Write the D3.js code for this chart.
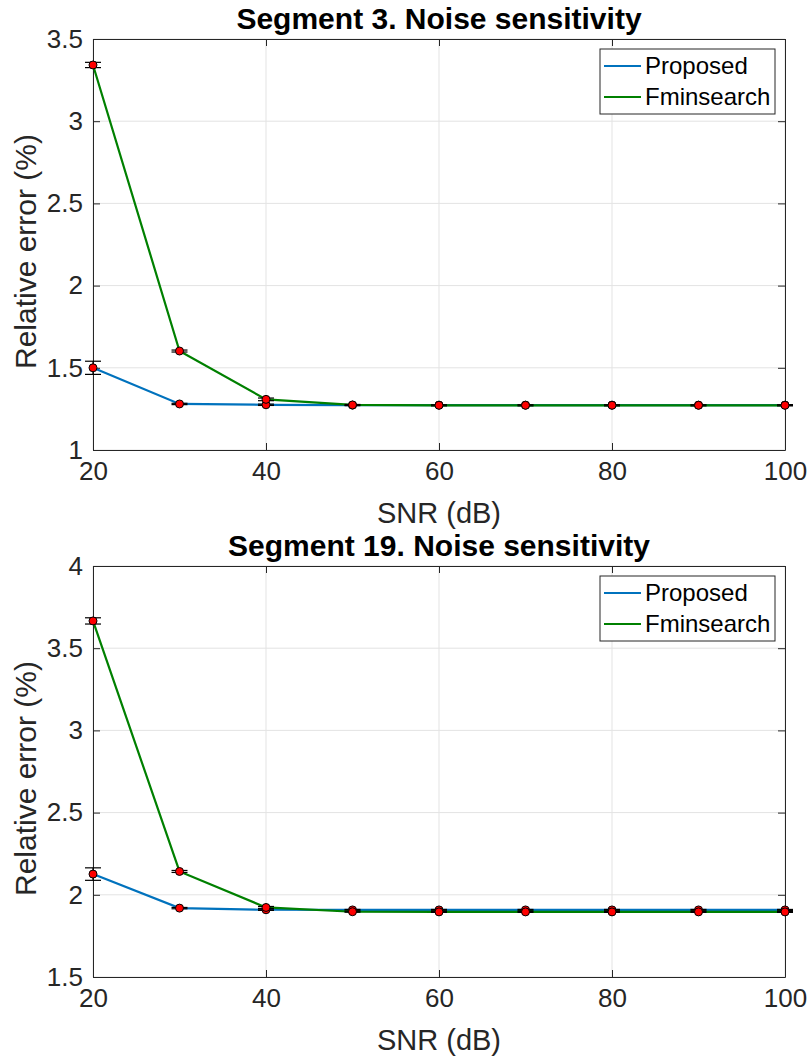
<!DOCTYPE html>
<html>
<head>
<meta charset="utf-8">
<script src="https://cdn.jsdelivr.net/npm/d3@7"></script>
<style>
  body { margin: 0; background: #fff; }
  svg { display: block; font-family: "Liberation Sans", Arial, sans-serif; }
</style>
</head>
<body>
<div id="chart"></div>
<script>
// SNR levels (dB)
const snr = [20, 30, 40, 50, 60, 70, 80, 90, 100]
const xTicks = [20, 40, 60, 80, 100]
const seriesNames = ['Proposed', 'Fminsearch']

// Segment 3
const seg3Proposed = [1.50, 1.280, 1.275, 1.273, 1.273, 1.273, 1.273, 1.273, 1.273]
const seg3ProposedErr = [0.040, 0.004, 0.004, 0.003, 0.003, 0.003, 0.003, 0.003, 0.003]
const seg3Fmin = [3.342, 1.602, 1.308, 1.274, 1.272, 1.272, 1.272, 1.272, 1.272]
const seg3FminErr = [0.016, 0.006, 0.008, 0.003, 0.003, 0.003, 0.003, 0.003, 0.003]
const seg3YTicks = [1, 1.5, 2, 2.5, 3, 3.5]

// Segment 19
const seg19Proposed = [2.126, 1.919, 1.909, 1.908, 1.908, 1.908, 1.908, 1.908, 1.908]
const seg19ProposedErr = [0.038, 0.004, 0.004, 0.003, 0.003, 0.003, 0.003, 0.003, 0.003]
const seg19Fmin = [3.666, 2.142, 1.923, 1.897, 1.896, 1.896, 1.896, 1.896, 1.896]
const seg19FminErr = [0.019, 0.006, 0.006, 0.003, 0.003, 0.003, 0.003, 0.003, 0.003]
const seg19YTicks = [1.5, 2, 2.5, 3, 3.5, 4]

const colors = ['#0072BD', '#008000']
const axisColor = '#262626'

const width = 809
const height = 1059
const left = 93
const right = 785

const svg = d3.select('#chart')
  .append('svg')
  .attr('width', width)
  .attr('height', height)

const xScale = d3.scaleLinear().domain([20, 100]).range([left, right])

function drawPanel(top, bottom, title, yTicks, series) {
  const yScale = d3.scaleLinear()
    .domain([yTicks[0], yTicks[yTicks.length - 1]])
    .range([bottom, top])
  const g = svg.append('g')

  // grid
  g.selectAll('.gx').data(xTicks).enter().append('line')
    .attr('x1', d => xScale(d)).attr('x2', d => xScale(d))
    .attr('y1', top).attr('y2', bottom)
    .attr('stroke', '#e3e3e3').attr('stroke-width', 1)
  g.selectAll('.gy').data(yTicks).enter().append('line')
    .attr('x1', left).attr('x2', right)
    .attr('y1', d => yScale(d)).attr('y2', d => yScale(d))
    .attr('stroke', '#e3e3e3').attr('stroke-width', 1)

  // axes (ticks inward, box on)
  const tickLen = 7
  const axes = [
    { axis: d3.axisBottom(xScale).tickValues(xTicks), tr: `translate(0,${bottom})`, labels: 'x' },
    { axis: d3.axisTop(xScale).tickValues(xTicks), tr: `translate(0,${top})`, labels: null },
    { axis: d3.axisLeft(yScale).tickValues(yTicks), tr: `translate(${left},0)`, labels: 'y' },
    { axis: d3.axisRight(yScale).tickValues(yTicks), tr: `translate(${right},0)`, labels: null }
  ]
  axes.forEach(a => {
    const ag = g.append('g')
      .attr('transform', a.tr)
      .call(a.axis.tickSize(-tickLen).tickSizeOuter(0).tickFormat(d3.format('~g')))
    ag.select('.domain').attr('stroke', axisColor)
    ag.selectAll('.tick line').attr('stroke', axisColor)
    ag.selectAll('.tick text')
      .attr('fill', axisColor)
      .style('font-size', '26px')
      .style('font-family', '"Liberation Sans", Arial, sans-serif')
    if (a.labels === 'x') ag.selectAll('.tick text').attr('y', 12)
    if (a.labels === 'y') ag.selectAll('.tick text').attr('x', -10)
    if (!a.labels) ag.selectAll('.tick text').remove()
  })

  // series
  series.forEach((s, i) => {
    const pts = snr.map((x, j) => ({ x: x, y: s.values[j], e: s.err[j] }))
    g.append('path')
      .datum(pts)
      .attr('fill', 'none')
      .attr('stroke', colors[i])
      .attr('stroke-width', 2.2)
      .attr('d', d3.line().x(d => xScale(d.x)).y(d => yScale(d.y)))

    const bars = g.append('g').selectAll('g').data(pts).enter().append('g')
    bars.append('line')
      .attr('x1', d => xScale(d.x)).attr('x2', d => xScale(d.x))
      .attr('y1', d => yScale(d.y - d.e)).attr('y2', d => yScale(d.y + d.e))
      .attr('stroke', '#000').attr('stroke-width', 1.2)
    ;[-1, 1].forEach(sgn => {
      bars.append('line')
        .attr('x1', d => xScale(d.x) - 8).attr('x2', d => xScale(d.x) + 8)
        .attr('y1', d => yScale(d.y + sgn * d.e)).attr('y2', d => yScale(d.y + sgn * d.e))
        .attr('stroke', '#000').attr('stroke-width', 1.2)
    })

    g.append('g').selectAll('circle').data(pts).enter().append('circle')
      .attr('cx', d => xScale(d.x))
      .attr('cy', d => yScale(d.y))
      .attr('r', 4)
      .attr('fill', '#ff0000')
      .attr('stroke', '#000')
      .attr('stroke-width', 1)
  })

  // title and labels
  g.append('text')
    .attr('x', (left + right) / 2)
    .attr('y', top - 10)
    .attr('text-anchor', 'middle')
    .style('font-size', '30px')
    .style('font-weight', 'bold')
    .attr('fill', '#000')
    .text(title)
  g.append('text')
    .attr('x', (left + right) / 2)
    .attr('y', bottom + 73)
    .attr('text-anchor', 'middle')
    .style('font-size', '29px')
    .attr('fill', axisColor)
    .text('SNR (dB)')
  g.append('text')
    .attr('transform', `translate(36,${(top + bottom) / 2 + 7}) rotate(-90)`)
    .attr('text-anchor', 'middle')
    .style('font-size', '30px')
    .attr('fill', axisColor)
    .text('Relative error (%)')

  // legend
  const lx = 600
  const ly = top + 10
  g.append('rect')
    .attr('x', lx).attr('y', ly)
    .attr('width', 175).attr('height', 65)
    .attr('fill', '#fff')
    .attr('stroke', '#262626').attr('stroke-width', 1)
  seriesNames.forEach((name, i) => {
    const yy = ly + 17 + i * 31
    g.append('line')
      .attr('x1', lx + 4).attr('x2', lx + 41)
      .attr('y1', yy).attr('y2', yy)
      .attr('stroke', colors[i]).attr('stroke-width', 2.2)
    g.append('text')
      .attr('x', lx + 45).attr('y', yy)
      .attr('dy', '0.35em')
      .style('font-size', '24px')
      .attr('fill', '#000')
      .text(name)
  })
}

drawPanel(39, 450, 'Segment 3. Noise sensitivity', seg3YTicks, [
  { values: seg3Proposed, err: seg3ProposedErr },
  { values: seg3Fmin, err: seg3FminErr }
])
drawPanel(566, 977, 'Segment 19. Noise sensitivity', seg19YTicks, [
  { values: seg19Proposed, err: seg19ProposedErr },
  { values: seg19Fmin, err: seg19FminErr }
])
</script>
</body>
</html>
